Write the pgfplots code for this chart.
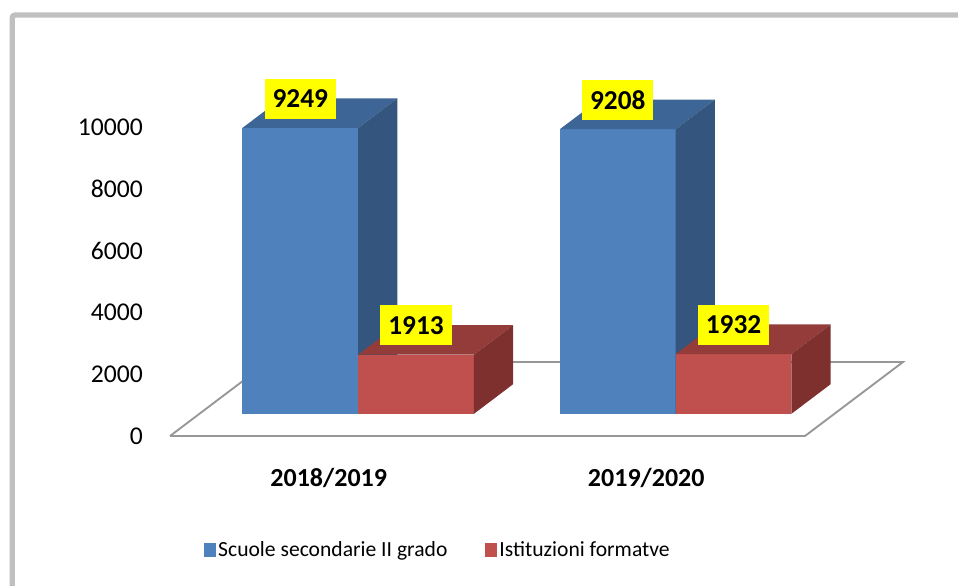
\documentclass[border=0pt]{standalone}
\usepackage{pgfplots}
\pgfplotsset{compat=1.18}
\usepackage{fontspec}
\setmainfont{Carlito}
\definecolor{bfront}{HTML}{4F81BD}
\definecolor{btop}{HTML}{3D6596}
\definecolor{bside}{HTML}{34557E}
\definecolor{rfront}{HTML}{C0504D}
\definecolor{rtop}{HTML}{943C3A}
\definecolor{rside}{HTML}{7D302E}
\definecolor{floorgray}{HTML}{979797}
\definecolor{framegray}{HTML}{C0C0C0}
\definecolor{lblyellow}{HTML}{FFFF00}
\begin{document}
\begin{tikzpicture}
\useasboundingbox (0,0) rectangle (718.5pt,-439.5pt);
\draw[framegray, line width=4pt, rounded corners=2pt] (9.2pt,-470pt) -- (9.2pt,-11.3pt) -- (740pt,-11.3pt);
\begin{axis}[
  at={(246.56pt,-327pt)}, anchor=origin,
  x={(238.125pt,0pt)}, y={(73.5pt,55.5pt)}, z={(0pt,0.023175pt)},
  xmin=-0.5, xmax=1.5, ymin=0, ymax=1, zmin=0, zmax=10000,
  axis lines*=left, axis line style={draw=none},
  major tick length=0pt, clip=false,
  xtick={0,1}, xticklabels={2018/2019,2019/2020},
  ytick=\empty,
  ztick={0,2000,4000,6000,8000,10000},
  scaled z ticks=false,
  /pgf/number format/1000 sep={},
  /pgf/number format/assume math mode=true,
  xticklabel style={anchor=center, inner sep=0pt, yshift=-31.5pt, font=\bfseries\fontsize{19.5}{23}\selectfont},
  zticklabel style={anchor=east, inner sep=0pt, xshift=-20.25pt, font=\fontsize{19.2}{23}\selectfont},
  legend style={at={(axis cs:0.344,0,-3689)}, anchor=center, draw=none, fill=none,
    legend columns=2, font=\fontsize{16.2}{19}\selectfont,
    /tikz/every even column/.append style={column sep=27pt},
    nodes={inner sep=1.5pt}},
  legend image code/.code={\fill[#1] (0pt,-5.5pt) rectangle (9pt,5.5pt);},
]
% floor
\addplot3[fill=white, draw=floorgray, line width=1.4pt, forget plot] coordinates {(-0.5,0,0) (1.5,0,0) (1.5,1,0) (-0.5,1,0) (-0.5,0,0)};
% 2018/2019 - Scuole secondarie II grado
\addplot3[fill=bfront, draw=none] coordinates {(-0.3646,0.3,0) (0,0.3,0) (0,0.3,9249) (-0.3646,0.3,9249)};
\addlegendentry{Scuole secondarie II grado}
\addplot3[fill=btop, draw=none, forget plot] coordinates {(-0.3646,0.3,9249) (0,0.3,9249) (0,0.7,9249) (-0.3646,0.7,9249)};
\addplot3[fill=bside, draw=none, forget plot] coordinates {(0,0.3,0) (0,0.7,0) (0,0.7,9249) (0,0.3,9249)};
% 2018/2019 - Istituzioni formatve
\addplot3[fill=rfront, draw=none] coordinates {(0,0.3,0) (0.3646,0.3,0) (0.3646,0.3,1913) (0,0.3,1913)};
\addlegendentry{Istituzioni formatve}
\addplot3[fill=rtop, draw=none, forget plot] coordinates {(0,0.3,1913) (0.3646,0.3,1913) (0.3646,0.7,1913) (0,0.7,1913)};
\addplot3[fill=rside, draw=none, forget plot] coordinates {(0.3646,0.3,0) (0.3646,0.7,0) (0.3646,0.7,1913) (0.3646,0.3,1913)};
% 2019/2020 - Scuole secondarie II grado
\addplot3[fill=bfront, draw=none, forget plot] coordinates {(0.6354,0.3,0) (1,0.3,0) (1,0.3,9208) (0.6354,0.3,9208)};
\addplot3[fill=btop, draw=none, forget plot] coordinates {(0.6354,0.3,9208) (1,0.3,9208) (1,0.7,9208) (0.6354,0.7,9208)};
\addplot3[fill=bside, draw=none, forget plot] coordinates {(1,0.3,0) (1,0.7,0) (1,0.7,9208) (1,0.3,9208)};
% 2019/2020 - Istituzioni formatve
\addplot3[fill=rfront, draw=none, forget plot] coordinates {(1,0.3,0) (1.3646,0.3,0) (1.3646,0.3,1932) (1,0.3,1932)};
\addplot3[fill=rtop, draw=none, forget plot] coordinates {(1,0.3,1932) (1.3646,0.3,1932) (1.3646,0.7,1932) (1,0.7,1932)};
\addplot3[fill=rside, draw=none, forget plot] coordinates {(1.3646,0.3,0) (1.3646,0.7,0) (1.3646,0.7,1932) (1.3646,0.3,1932)};
% data labels
\addplot3[draw=none, forget plot, point meta=explicit symbolic, nodes near coords,
  nodes near coords style={anchor=south, yshift=6.75pt, fill=lblyellow, text=black,
    font=\bfseries\fontsize{20.5}{24}\selectfont, inner xsep=6pt, inner ysep=0pt, minimum height=30pt}]
  coordinates {(-0.1823,0.3,9249) [9249] (0.1823,0.3,1913) [1913] (0.8177,0.3,9208) [9208] (1.1823,0.3,1932) [1932]};
\end{axis}
\end{tikzpicture}
\end{document}
